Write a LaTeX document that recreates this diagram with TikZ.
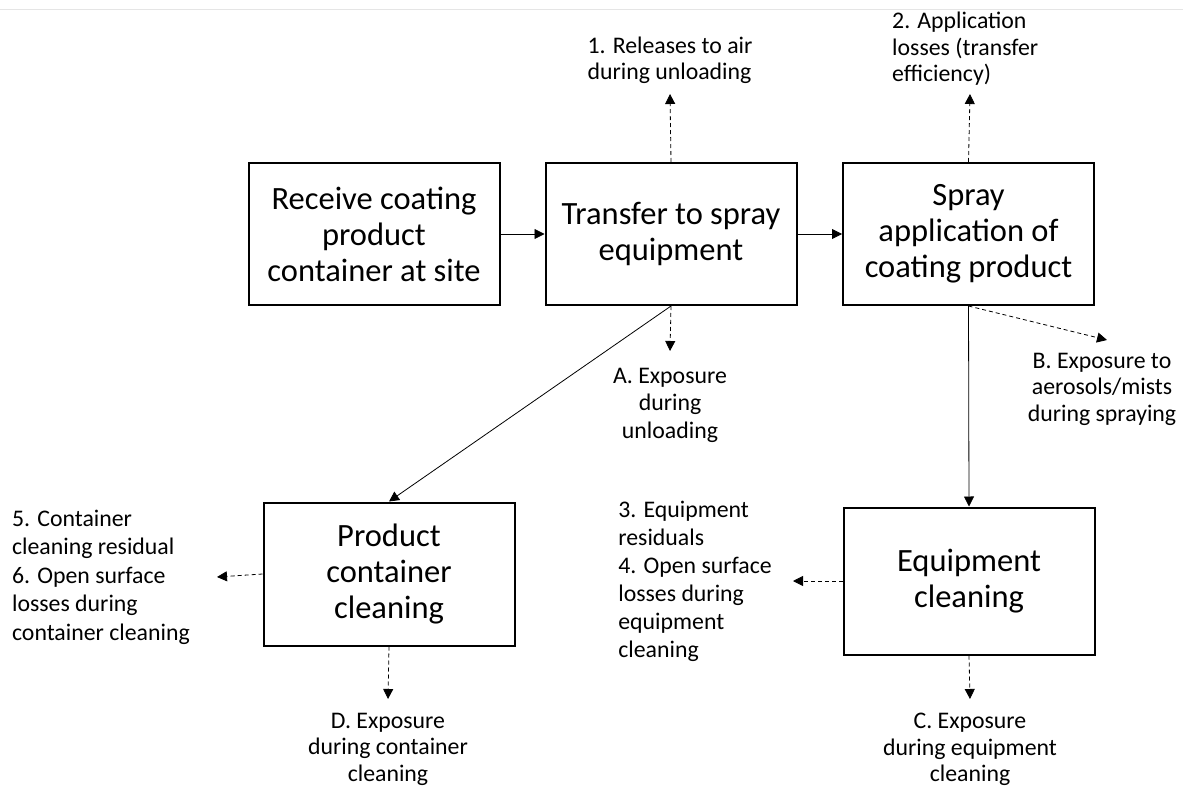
\documentclass[tikz,border=0pt]{standalone}
\usepackage{fontspec}
\setmainfont{Carlito}
\usetikzlibrary{arrows.meta,positioning}
\tikzset{
  stage/.style={rectangle,draw=black,line width=2pt,minimum width=251pt,
    minimum height=142pt,align=center,font=\fontsize{32.5}{36}\selectfont},
  note/.style={inner sep=0pt,font=\fontsize{23.8}{26.5}\selectfont},
  arrow/.style={-{Triangle[length=10pt,width=10pt]},line width=0.8pt},
  leak/.style={arrow,dash pattern=on 4pt off 3pt}
}
\begin{document}
\begin{tikzpicture}[x=1pt,y=-1pt]
\useasboundingbox (0,0) rectangle (1183,789);
\draw[black!10,line width=1pt] (0,10) -- (1183,10);
% process steps
\node[stage] (recv) at (374,234) {Receive coating\\product\\container at site};
\node[stage] (xfer) at (671,234) {Transfer to spray\\equipment};
\node[stage] (spray) at (968.5,234) {Spray\\application of\\coating product};
\node[stage,minimum height=143pt] (pcc) at (389,574) {Product\\container\\cleaning};
\node[stage,minimum height=147pt] (eqc) at (969,581) {Equipment\\cleaning};
\draw[arrow] (recv)--(xfer);\draw[arrow] (xfer)--(spray);
\draw[arrow] (xfer.south)--(pcc.north);\draw[arrow] (spray.south)--(eqc.north);
% releases and exposures
\coordinate (tip1) at (670,94);
\coordinate (tip2) at (970,94);
\coordinate (tipA) at (670,351);
\coordinate (tipB) at (1107,340);
\coordinate (tip3) at (793,581);
\coordinate (tip5) at (217,577);
\coordinate (tipD) at (388,699);
\coordinate (tipC) at (970,699);
\draw[leak] (xfer.north)--(tip1);\draw[leak] (spray.north)--(tip2);
\draw[leak] (xfer.south)--(tipA);\draw[leak] (spray.south)--(tipB);
\draw[leak] (eqc.west)--(tip3);\draw[leak] (pcc.west)--(tip5);
\draw[leak] (pcc.south)--(tipD);\draw[leak] (eqc.south)--(tipC);
\node[note,align=left,above=10pt of tip1] (rel1) {1. Releases to air\\during unloading};
\node[note,align=left,anchor=south west] (rel2) at (892,86) {2. Application\\losses (transfer\\efficiency)};
\node[note,align=center,below=17pt of tipA,font=\fontsize{23.8}{27.5}\selectfont] (expA) {A. Exposure\\during\\unloading};
\node[note,align=center,below=13pt of tipB,xshift=-5pt] (expB) {B. Exposure to\\aerosols/mists\\during spraying};
\node[note,align=left,left=21pt of tip3,font=\fontsize{23.8}{28}\selectfont] (rel3) {3. Equipment\\residuals\\4. Open surface\\losses during\\equipment\\cleaning};
\node[note,align=left,left=27pt of tip5,font=\fontsize{23.8}{28.5}\selectfont] (rel5) {5. Container\\cleaning residual\\6. Open surface\\losses during\\container cleaning};
\node[note,align=center,below=14pt of tipD] (expD) {D. Exposure\\during container\\cleaning};
\node[note,align=center,below=14pt of tipC] (expC) {C. Exposure\\during equipment\\cleaning};
\end{tikzpicture}
\end{document}
